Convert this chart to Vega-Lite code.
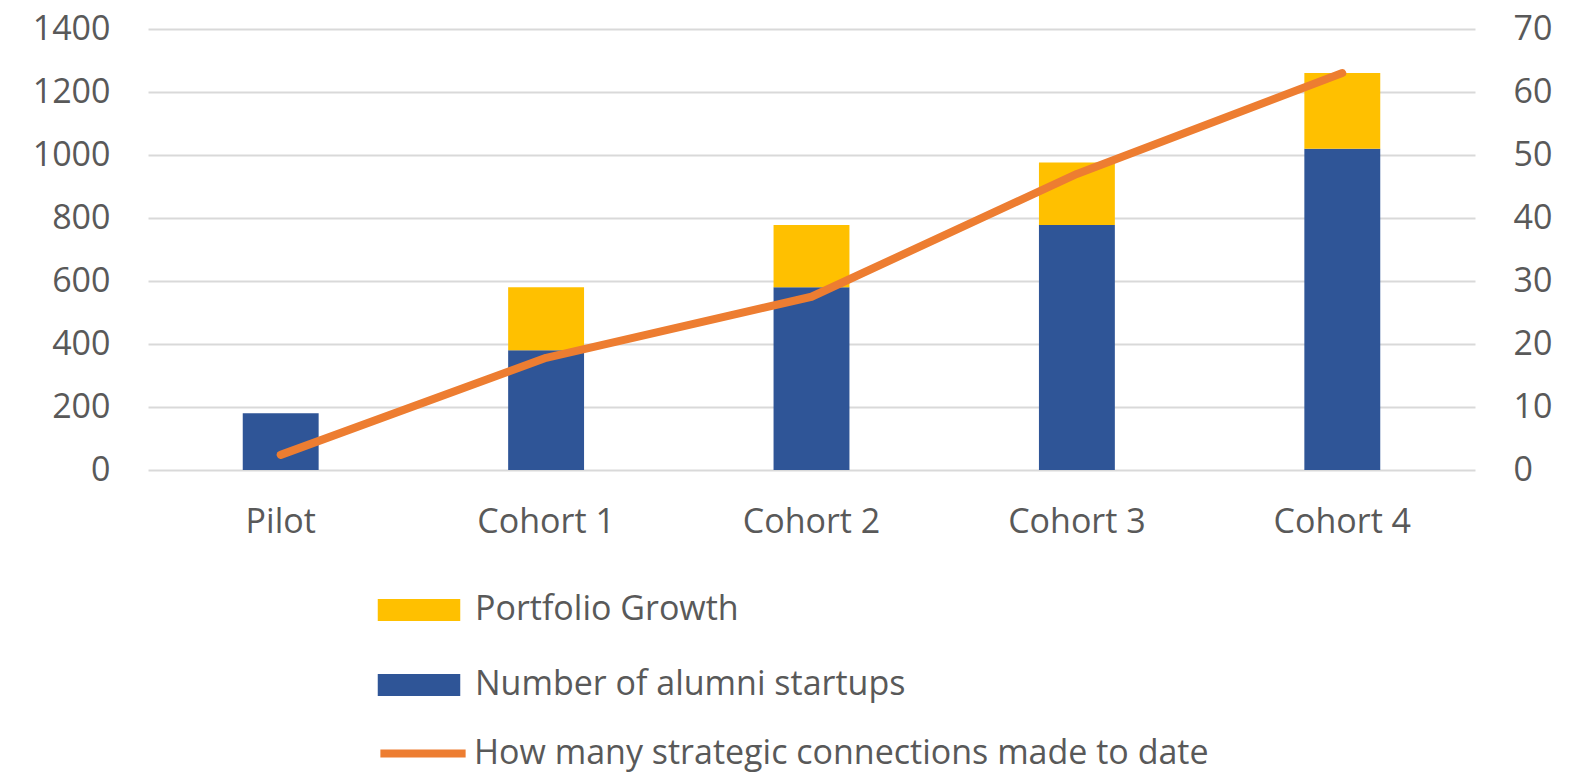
{
  "$schema": "https://vega.github.io/schema/vega-lite/v6.json",
  "width": 1327,
  "height": 441,
  "autosize": {"type": "none"},
  "padding": {"left": 148, "top": 29, "right": 100, "bottom": 306},
  "background": "white",
  "config": {
    "view": {"stroke": null},
    "font": "Open Sans",
    "axis": {"labelFont": "Open Sans", "labelFontSize": 34, "labelColor": "#595959", "tickSize": 0, "ticks": false, "domain": false},
    "legend": {"labelFont": "Open Sans", "labelFontSize": 34, "labelColor": "#595959", "padding": 0, "labelLimit": 1000}
  },
  "datasets": {
    "bars": [
      {"category": "Pilot", "series": "Number of alumni startups", "value": 180},
      {"category": "Pilot", "series": "Portfolio Growth", "value": 0},
      {"category": "Cohort 1", "series": "Number of alumni startups", "value": 380},
      {"category": "Cohort 1", "series": "Portfolio Growth", "value": 200},
      {"category": "Cohort 2", "series": "Number of alumni startups", "value": 580},
      {"category": "Cohort 2", "series": "Portfolio Growth", "value": 198},
      {"category": "Cohort 3", "series": "Number of alumni startups", "value": 778},
      {"category": "Cohort 3", "series": "Portfolio Growth", "value": 198},
      {"category": "Cohort 4", "series": "Number of alumni startups", "value": 1020},
      {"category": "Cohort 4", "series": "Portfolio Growth", "value": 240}
    ],
    "line": [
      {"category": "Pilot", "connections": 2.4},
      {"category": "Cohort 1", "connections": 17.8},
      {"category": "Cohort 2", "connections": 27.5},
      {"category": "Cohort 3", "connections": 47},
      {"category": "Cohort 4", "connections": 63}
    ]
  },
  "layer": [
    {
      "data": {"name": "bars"},
      "mark": {"type": "bar"},
      "encoding": {
        "x": {
          "field": "category", "type": "nominal", "sort": null,
          "scale": {"paddingInner": 0.714, "paddingOuter": 0.357},
          "axis": {"title": null, "labelAngle": 0, "labelPadding": 35, "grid": false}
        },
        "y": {
          "field": "value", "type": "quantitative", "stack": "zero",
          "scale": {"domain": [0, 1400], "nice": false},
          "axis": {"title": null, "format": "d", "values": [0, 200, 400, 600, 800, 1000, 1200, 1400], "grid": true, "gridColor": "#d9d9d9", "gridWidth": 2, "labelPadding": 38}
        },
        "color": {
          "field": "series", "type": "nominal",
          "scale": {"domain": ["Portfolio Growth", "Number of alumni startups"], "range": ["#FFC000", "#2F5597"]},
          "legend": {
            "title": null, "orient": "none", "legendX": 243.5, "legendY": 553.5,
            "symbolType": "M-1.5,-0.4H1.5V0.4H-1.5Z", "symbolSize": 3025, "symbolStrokeWidth": 0,
            "labelOffset": 28.5, "rowPadding": 30, "labelLimit": 1000
          }
        },
        "order": {"field": "series", "sort": "ascending"}
      }
    },
    {
      "data": {"name": "line"},
      "mark": {"type": "line", "strokeWidth": 8, "strokeCap": "round", "strokeJoin": "round"},
      "encoding": {
        "x": {"field": "category", "type": "nominal", "sort": null},
        "y": {
          "field": "connections", "type": "quantitative",
          "scale": {"domain": [0, 70], "nice": false},
          "axis": {"title": null, "orient": "right", "values": [0, 10, 20, 30, 40, 50, 60, 70], "grid": false, "labelPadding": 38}
        },
        "stroke": {
          "datum": "How many strategic connections made to date",
          "scale": {"range": ["#ED7D31"]},
          "legend": {
            "title": null, "orient": "none", "legendX": 243.5, "legendY": 693,
            "symbolType": "M-1.55,0H1.55", "symbolSize": 3025, "symbolStrokeWidth": 8,
            "labelOffset": 19.5, "labelLimit": 1000
          }
        }
      }
    }
  ],
  "resolve": {"scale": {"y": "independent"}}
}
